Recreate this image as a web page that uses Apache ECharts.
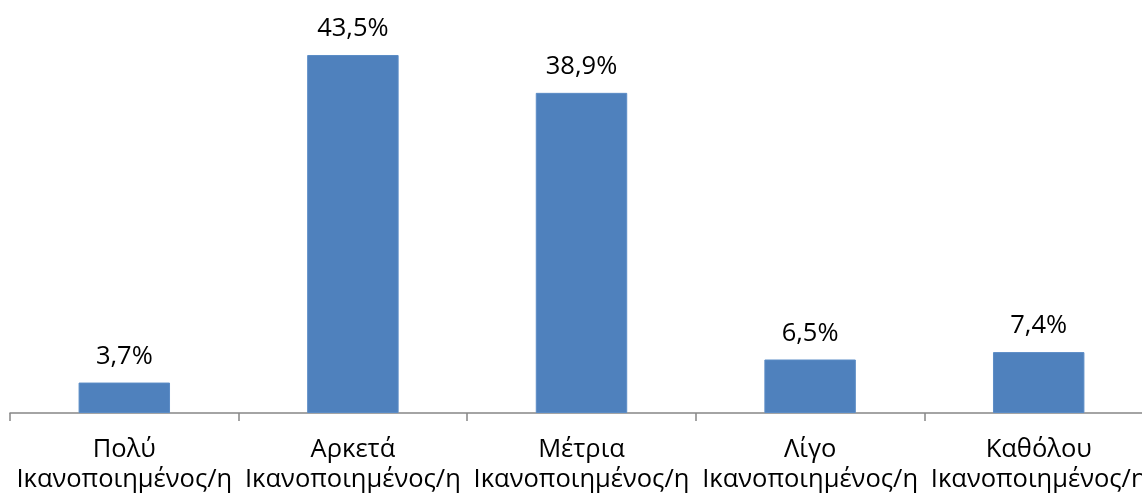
<!DOCTYPE html>
<html>
<head>
<meta charset="utf-8">
<script src="https://cdn.jsdelivr.net/npm/echarts@6/dist/echarts.min.js"></script>
<style>
  html, body { margin: 0; padding: 0; background: #ffffff; overflow: hidden; width: 1142px; height: 495px; }
  /* the plot runs a little past the right edge of the page */
  #chart { width: 1153px; height: 495px; }
</style>
</head>
<body>
<div id="chart"></div>
<script>
// Satisfaction levels (percent of respondents)
const categories = [
  'Πολύ\nΙκανοποιημένος/η',
  'Αρκετά\nΙκανοποιημένος/η',
  'Μέτρια\nΙκανοποιημένος/η',
  'Λίγο\nΙκανοποιημένος/η',
  'Καθόλου\nΙκανοποιημένος/η'
];
const values = [3.7, 43.5, 38.9, 6.5, 7.4];

const FONT = '"Open Sans", "Noto Sans", sans-serif';

const chart = echarts.init(document.getElementById('chart'), null, { renderer: 'canvas' });
chart.setOption({
  animation: false,
  backgroundColor: '#ffffff',
  grid: { left: 10, right: 0, top: 1.5, bottom: 81, containLabel: false },
  xAxis: {
    type: 'category',
    data: categories,
    axisLine: { show: true, lineStyle: { color: '#868686', width: 1.5 } },
    axisTick: { show: true, length: 8, lineStyle: { color: '#868686', width: 1.5 } },
    axisLabel: {
      color: '#000000',
      fontFamily: FONT,
      fontSize: 25.5,
      lineHeight: 30,
      margin: 22,
      interval: 0
    }
  },
  yAxis: {
    type: 'value',
    min: 0,
    max: 50,
    show: false,
    splitLine: { show: false }
  },
  series: [{
    type: 'bar',
    data: values,
    barWidth: '40%',
    itemStyle: { color: '#4F81BD', borderColor: '#5B8CC6', borderWidth: 1 },
    label: {
      show: true,
      position: 'top',
      distance: 13,
      color: '#000000',
      fontFamily: FONT,
      fontSize: 25.5,
      formatter: p => p.value.toFixed(1).replace('.', ',') + '%'
    }
  }]
});
</script>
</body>
</html>
